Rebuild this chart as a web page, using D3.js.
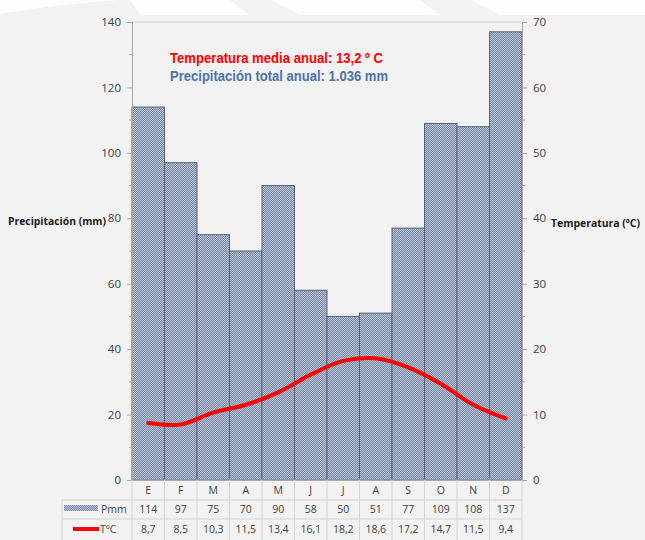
<!DOCTYPE html>
<html><head><meta charset="utf-8">
<script src="https://cdn.jsdelivr.net/npm/d3@7/dist/d3.min.js"></script>
<style>body{margin:0;background:#f2f2f2;}svg{display:block;}</style>
</head><body>
<svg id="c" width="645" height="540"></svg>
<script>
const months = ["E","F","M","A","M","J","J","A","S","O","N","D"];
const precip = [114,97,75,70,90,58,50,51,77,109,108,137];
const temp = [8.7,8.5,10.3,11.5,13.4,16.1,18.2,18.6,17.2,14.7,11.5,9.4];
const tempLabels = ["8,7","8,5","10,3","11,5","13,4","16,1","18,2","18,6","17,2","14,7","11,5","9,4"];
const leftTicks = [0,20,40,60,80,100,120,140];
const rightTicks = [0,10,20,30,40,50,60,70];

const svg = d3.select("#c");
const L = 132, R = 522, T = 22, B = 480;
const font = "'Open Sans', 'Liberation Sans', sans-serif";

// background
svg.append("rect").attr("width",645).attr("height",540).attr("fill","#f2f2f2");
const bg = svg.append("g").attr("fill","#ffffff").attr("opacity",0.85);
bg.append("path").attr("d","M0,0 L120,0 Q60,4 0,14 Z");
bg.append("path").attr("d","M130,0 L230,0 L250,15 L140,15 Z");
bg.append("path").attr("d","M270,0 L420,0 L440,15 L300,15 Z");
bg.append("path").attr("d","M470,0 L645,0 L645,15 L500,15 Z");

const x = d3.scaleBand().domain(d3.range(12)).range([L,R]).padding(0);
const yL = d3.scaleLinear().domain([0,140]).range([B,T]);
const yR = d3.scaleLinear().domain([0,70]).range([B,T]);

// pattern
const defs = svg.append("defs");
const pat = defs.append("pattern").attr("id","chk").attr("width",2).attr("height",2).attr("patternUnits","userSpaceOnUse");
pat.append("rect").attr("width",2).attr("height",2).attr("fill","#7788a5");
pat.append("rect").attr("width",1).attr("height",1).attr("fill","#bac4d4");
pat.append("rect").attr("x",1).attr("y",1).attr("width",1).attr("height",1).attr("fill","#bac4d4");

// plot frame top line
svg.append("line").attr("x1",L).attr("x2",R).attr("y1",T).attr("y2",T).attr("stroke","#d0d0d0");

// bars
svg.append("g").selectAll("rect").data(precip).join("rect")
  .attr("x",(d,i)=>x(i)).attr("width",x.bandwidth())
  .attr("y",d=>yL(d)).attr("height",d=>B-yL(d))
  .attr("fill","url(#chk)").attr("stroke","#56627a").attr("stroke-width",1);

// axes
const axL = d3.axisLeft(yL).tickValues(leftTicks).tickSize(5).tickPadding(6);
const gL = svg.append("g").attr("transform",`translate(${L},0)`).call(axL);
const axR = d3.axisRight(yR).tickValues(rightTicks).tickSize(5).tickPadding(6);
const gR = svg.append("g").attr("transform",`translate(${R},0)`).call(axR);
[gL,gR].forEach(g=>{
  g.select(".domain").attr("stroke","#a6a6a6");
  g.selectAll(".tick line").attr("stroke","#a6a6a6");
  g.selectAll(".tick text").attr("fill","#404040").style("font-family",font).style("font-size","11.5px");
});
// minor ticks
svg.append("g").selectAll("line").data(d3.range(10,140,20)).join("line")
  .attr("x1",L-3).attr("x2",L).attr("y1",d=>yL(d)).attr("y2",d=>yL(d)).attr("stroke","#a6a6a6");
svg.append("g").selectAll("line").data(d3.range(5,70,10)).join("line")
  .attr("x1",R).attr("x2",R+3).attr("y1",d=>yR(d)).attr("y2",d=>yR(d)).attr("stroke","#a6a6a6");
svg.append("line").attr("x1",L).attr("x2",R).attr("y1",B).attr("y2",B).attr("stroke","#a6a6a6");

// temperature line
const line = d3.line().x((d,i)=>x(i)+x.bandwidth()/2).y(d=>yR(d)).curve(d3.curveCatmullRom.alpha(0.5));
svg.append("path").datum(temp).attr("d",line).attr("fill","none").attr("stroke","#ff0000").attr("stroke-width",4).attr("stroke-linecap","round");

// axis titles
svg.append("text").attr("x",106).attr("y",225).attr("text-anchor","end").attr("fill","#1a1a1a")
  .attr("textLength",98).attr("lengthAdjust","spacingAndGlyphs")
  .style("font-family",font).style("font-size","10.5px").style("font-weight","bold").text("Precipitación (mm)");
svg.append("text").attr("x",551).attr("y",227).attr("fill","#1a1a1a")
  .attr("textLength",89).attr("lengthAdjust","spacingAndGlyphs")
  .style("font-family",font).style("font-size","10.5px").style("font-weight","bold").text("Temperatura (ºC)");

// annotations
const nfont = "'Liberation Sans Narrow', 'Arial Narrow', 'Liberation Sans', sans-serif";
svg.append("text").attr("x",170).attr("y",63).attr("fill","#ff0000")
  .attr("textLength",213).attr("lengthAdjust","spacingAndGlyphs")
  .style("font-family",nfont).style("font-size","14.5px").style("font-weight","bold").text("Temperatura media anual: 13,2 º C");
svg.append("text").attr("x",170).attr("y",81).attr("fill","#4f72a8")
  .attr("textLength",218).attr("lengthAdjust","spacingAndGlyphs")
  .style("font-family",nfont).style("font-size","14.5px").style("font-weight","bold").text("Precipitación total anual: 1.036 mm");

// data table
const tg = svg.append("g");
const gridC = "#d4d4d4";
const r1 = B, r2 = 500, r3 = 519, r4 = 540;
d3.range(13).forEach(i=>{
  const xx = i<12 ? x(i) : R;
  tg.append("line").attr("x1",xx).attr("x2",xx).attr("y1",r1).attr("y2",r4).attr("stroke",gridC);
});
tg.append("line").attr("x1",62).attr("x2",62).attr("y1",r2).attr("y2",r4).attr("stroke",gridC);
[r2,r3].forEach(yy=>tg.append("line").attr("x1",62).attr("x2",R).attr("y1",yy).attr("y2",yy).attr("stroke",gridC));
const cellText = (arr, yy)=>tg.append("g").selectAll("text").data(arr).join("text")
  .attr("x",(d,i)=>x(i)+x.bandwidth()/2).attr("y",yy).attr("text-anchor","middle").attr("fill","#404040")
  .style("font-family",font).style("font-size","10.5px").text(d=>d);
cellText(months, 494);
cellText(precip, 513);
cellText(tempLabels, 533);
// legend keys
tg.append("rect").attr("x",64).attr("y",505).attr("width",34).attr("height",6).attr("fill","url(#chk)");
tg.append("text").attr("x",101).attr("y",513).attr("fill","#404040").style("font-family",font).style("font-size","10.5px").text("Pmm");
tg.append("line").attr("x1",73).attr("x2",99).attr("y1",529).attr("y2",529).attr("stroke","#ff0000").attr("stroke-width",4);
tg.append("text").attr("x",100).attr("y",533).attr("fill","#404040").style("font-family",font).style("font-size","10.5px").text("TºC");
</script>
</body></html>
